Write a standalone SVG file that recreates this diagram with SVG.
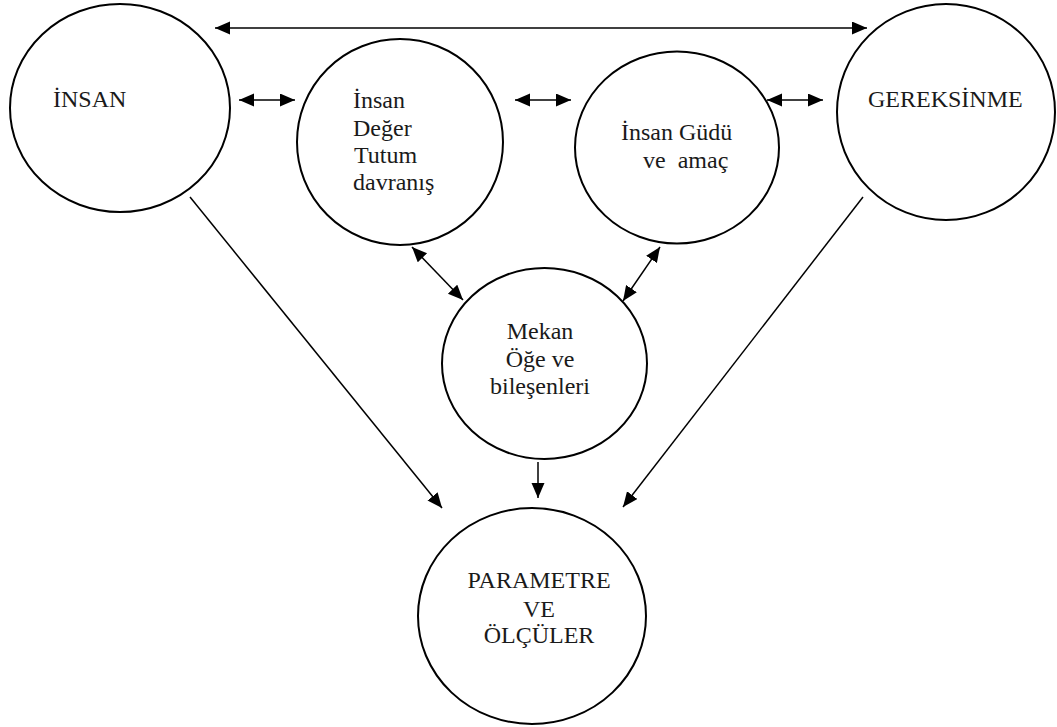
<svg xmlns="http://www.w3.org/2000/svg" width="1057" height="727" viewBox="0 0 1057 727">
<style>
.n{fill:#fff;stroke:#000;stroke-width:2}
.t{font-family:"Liberation Serif","Times New Roman",serif;font-size:24px;fill:#1a1a1a}
.c{text-anchor:middle}
.e{stroke:#000;stroke-width:1.5;fill:none}
</style>
<defs>
<marker id="ah" markerUnits="userSpaceOnUse" markerWidth="16" markerHeight="14" refX="15" refY="6.5" orient="auto-start-reverse">
<path d="M0,0 L15,6.5 L0,13 z" fill="#000"/>
</marker>
</defs>
<rect width="1057" height="727" fill="#fff"/>
<g id="connectors">
<line class="e" x1="215" y1="28" x2="867" y2="28" marker-start="url(#ah)" marker-end="url(#ah)"/>
<line class="e" x1="239" y1="100" x2="295" y2="100" marker-start="url(#ah)" marker-end="url(#ah)"/>
<line class="e" x1="515" y1="100" x2="571" y2="100" marker-start="url(#ah)" marker-end="url(#ah)"/>
<line class="e" x1="767" y1="100" x2="823" y2="100" marker-start="url(#ah)" marker-end="url(#ah)"/>
<line class="e" x1="412" y1="247" x2="463" y2="300" marker-start="url(#ah)" marker-end="url(#ah)"/>
<line class="e" x1="660" y1="247" x2="623" y2="301" marker-start="url(#ah)" marker-end="url(#ah)"/>
<line class="e" x1="538" y1="462" x2="538" y2="498" marker-end="url(#ah)"/>
<line class="e" x1="190" y1="197" x2="442" y2="508" marker-end="url(#ah)"/>
<line class="e" x1="863" y1="197" x2="623" y2="507" marker-end="url(#ah)"/>
</g>
<g id="insan">
<ellipse class="n" cx="120" cy="108" rx="110" ry="104"/>
<text class="t" x="53" y="107">İNSAN</text>
</g>
<g id="deger">
<ellipse class="n" cx="400" cy="142" rx="103" ry="103"/>
<text class="t" x="353" y="108">İnsan</text>
<text class="t" x="353" y="136">Değer</text>
<text class="t" x="354" y="163">Tutum</text>
<text class="t" x="353" y="190">davranış</text>
</g>
<g id="gudu">
<ellipse class="n" cx="677" cy="147.5" rx="102" ry="96"/>
<text class="t" x="621" y="140">İnsan Güdü</text>
<text class="t" x="643" y="168" xml:space="preserve">ve  amaç</text>
</g>
<g id="gereksinme">
<ellipse class="n" cx="946" cy="112" rx="109" ry="108"/>
<text class="t" x="868" y="107">GEREKSİNME</text>
</g>
<g id="mekan">
<ellipse class="n" cx="544.5" cy="363.5" rx="102.5" ry="95.5"/>
<text class="t c" x="540" y="339">Mekan</text>
<text class="t c" x="540" y="367">Öğe ve</text>
<text class="t c" x="540" y="394">bileşenleri</text>
</g>
<g id="parametre">
<ellipse class="n" cx="532" cy="616" rx="114" ry="108"/>
<text class="t c" x="539" y="588">PARAMETRE</text>
<text class="t c" x="539" y="617">VE</text>
<text class="t c" x="539" y="643">ÖLÇÜLER</text>
</g>
</svg>
